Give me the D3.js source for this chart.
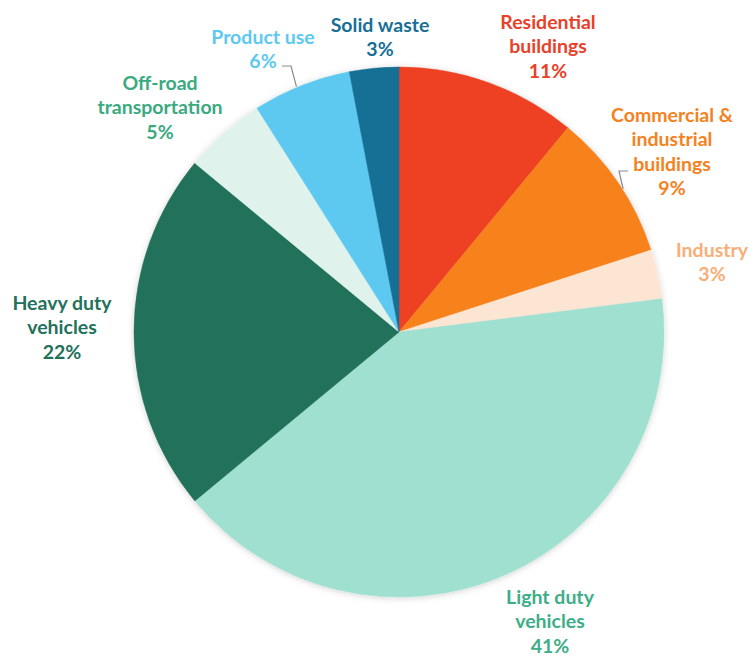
<!DOCTYPE html>
<html>
<head>
<meta charset="utf-8">
<script src="https://cdn.jsdelivr.net/npm/d3@7"></script>
<style>
    body { margin: 0; background: #fff; }
    svg text { font-family: Lato, 'Open Sans', sans-serif; font-weight: 700; }
</style>
</head>
<body>
<svg id="chart" width="754" height="656"></svg>
<script>
// data, clockwise from 12 o'clock
const categories = [ 'Residential buildings', 'Commercial & industrial buildings', 'Industry',
    'Light duty vehicles', 'Heavy duty vehicles', 'Off-road transportation', 'Product use', 'Solid waste' ];
const shares = [ 11, 9, 3, 41, 22, 5, 6, 3 ];
const labelLines = [
    [ 'Residential', 'buildings' ],
    [ 'Commercial &', 'industrial', 'buildings' ],
    [ 'Industry' ],
    [ 'Light duty', 'vehicles' ],
    [ 'Heavy duty', 'vehicles' ],
    [ 'Off-road', 'transportation' ],
    [ 'Product use' ],
    [ 'Solid waste' ]
];

const sliceColors = [ '#ee4123', '#f7821f', '#fde5d3', '#a0e0d0', '#22715a', '#dff3ec', '#5dc9f0', '#176f96' ];
const textColors  = [ '#e8412a', '#f58220', '#f8ae78', '#3dae88', '#22715a', '#3aaa80', '#5dc9f0', '#176f96' ];

// where the label block centre sits (top line centre), by hand, like the original
const labelAt = [ [ 548, 22 ], [ 672, 115 ], [ 712, 250 ], [ 550, 597 ], [ 62, 303 ], [ 160, 83 ], [ 263, 37 ], [ 380, 25 ] ];

const cx = 399, cy = 332, r = 265, lineH = 24.5;

const svg = d3.select( '#chart' );

const defs = svg.append( 'defs' );
defs.append( 'filter' ).attr( 'id', 'shadow' )
    .attr( 'x', '-10%' ).attr( 'y', '-10%' ).attr( 'width', '120%' ).attr( 'height', '120%' )
    .append( 'feDropShadow' )
    .attr( 'dx', 0 ).attr( 'dy', 1 ).attr( 'stdDeviation', 3 )
    .attr( 'flood-color', '#000' ).attr( 'flood-opacity', 0.18 );

const pie = d3.pie().sort( null ).value( d => d );
const arc = d3.arc().innerRadius( 0 ).outerRadius( r );
const arcs = pie( shares );

const g = svg.append( 'g' ).attr( 'transform', `translate(${cx},${cy})` );

g.append( 'g' ).attr( 'filter', 'url(#shadow)' )
    .selectAll( 'path' )
    .data( arcs )
    .enter().append( 'path' )
    .attr( 'd', arc )
    .attr( 'fill', ( d, i ) => sliceColors[ i ] )
    .attr( 'stroke', ( d, i ) => sliceColors[ i ] )
    .attr( 'stroke-width', 0.5 );

// leader lines for the two labels that sit off their slice
const leader = ( i, pts ) => {
    const a = arcs[ i ];
    const ang = a.startAngle + ( a.endAngle - a.startAngle ) * pts.frac;
    const ex = cx + Math.sin( ang ) * ( r + 1 ), ey = cy - Math.cos( ang ) * ( r + 1 );
    svg.append( 'path' )
        .attr( 'd', d3.line()( [ pts.from, pts.knee, [ ex, ey ] ] ) )
        .attr( 'fill', 'none' ).attr( 'stroke', '#8a8a8a' ).attr( 'stroke-width', 1.2 );
};
leader( 6, { from: [ 282, 66 ], knee: [ 291, 66 ], frac: 0.45 } );
leader( 1, { from: [ 628, 171 ], knee: [ 619, 171 ], frac: 0.55 } );

categories.forEach( ( c, i ) => {
    const lines = labelLines[ i ].concat( [ shares[ i ] + '%' ] );
    const t = svg.append( 'text' )
        .attr( 'text-anchor', 'middle' )
        .attr( 'fill', textColors[ i ] )
        .attr( 'font-size', 19.5 );
    lines.forEach( ( s, k ) => {
        t.append( 'tspan' )
            .attr( 'x', labelAt[ i ][ 0 ] )
            .attr( 'y', labelAt[ i ][ 1 ] + k * lineH )
            .attr( 'dy', '0.35em' )
            .text( s );
    } );
} );
</script>
</body>
</html>
